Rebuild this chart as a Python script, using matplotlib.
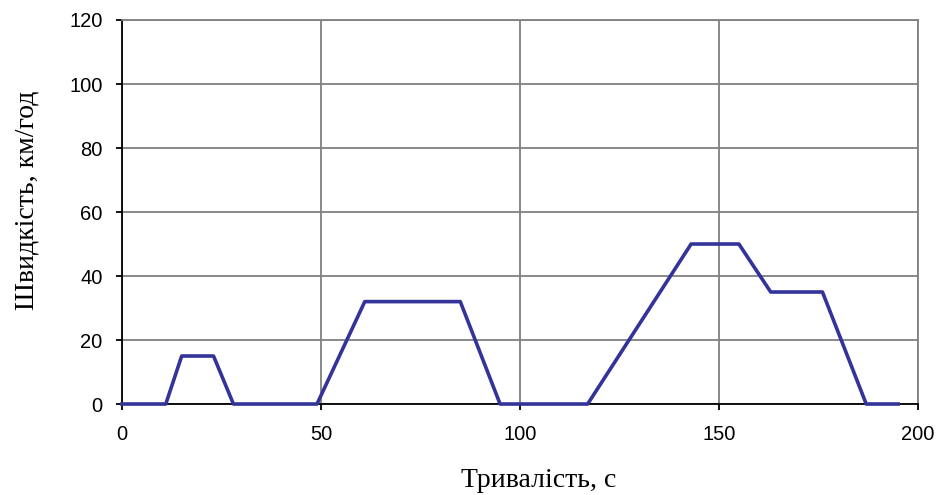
import matplotlib.pyplot as plt

# ECE-15 urban cycle, breakpoints
time_s = [0, 11, 15, 23, 28, 49, 61, 85, 95, 117, 143, 155, 163, 176, 187, 195]
speed_kmh = [0, 0, 15, 15, 0, 0, 32, 32, 0, 0, 50, 50, 35, 35, 0, 0]

x_ticks = [0, 50, 100, 150, 200]
y_ticks = [0, 20, 40, 60, 80, 100, 120]

fig = plt.figure(figsize=(9.37, 4.95), dpi=100)
ax = fig.add_axes([0.1302, 0.1838, 0.8495, 0.7758])

ax.plot(time_s, speed_kmh, color='#333399', linewidth=2.6, clip_on=False, zorder=3)

ax.set_xlim(0, 200)
ax.set_ylim(0, 120)
ax.set_xticks(x_ticks)
ax.set_yticks(y_ticks)
ax.grid(True, color='#808080', linewidth=1.3)
ax.set_axisbelow(True)

for side in ['top', 'right']:
    ax.spines[side].set_color('#808080')
    ax.spines[side].set_linewidth(1.3)
for side in ['left', 'bottom']:
    ax.spines[side].set_color('black')
    ax.spines[side].set_linewidth(1.3)

ax.tick_params(direction='out', length=4, width=1.3, colors='black')
ax.tick_params(axis='y', pad=10)
ax.tick_params(axis='x', pad=11)
for lbl in ax.get_xticklabels() + ax.get_yticklabels():
    lbl.set_fontfamily('Liberation Sans')
    lbl.set_fontsize(14.5)

# axis titles placed like the original
fig.text(538.5 / 937, 1 - 487 / 495, 'Тривалість, с', family='Liberation Serif',
         fontsize=20, ha='center', va='baseline')
fig.text(33.5 / 937, 1 - 200 / 495, 'Швидкість, км/год', family='Liberation Serif',
         fontsize=20, rotation=90, rotation_mode='anchor', ha='center', va='baseline')

fig.savefig('out.png', dpi=100)
